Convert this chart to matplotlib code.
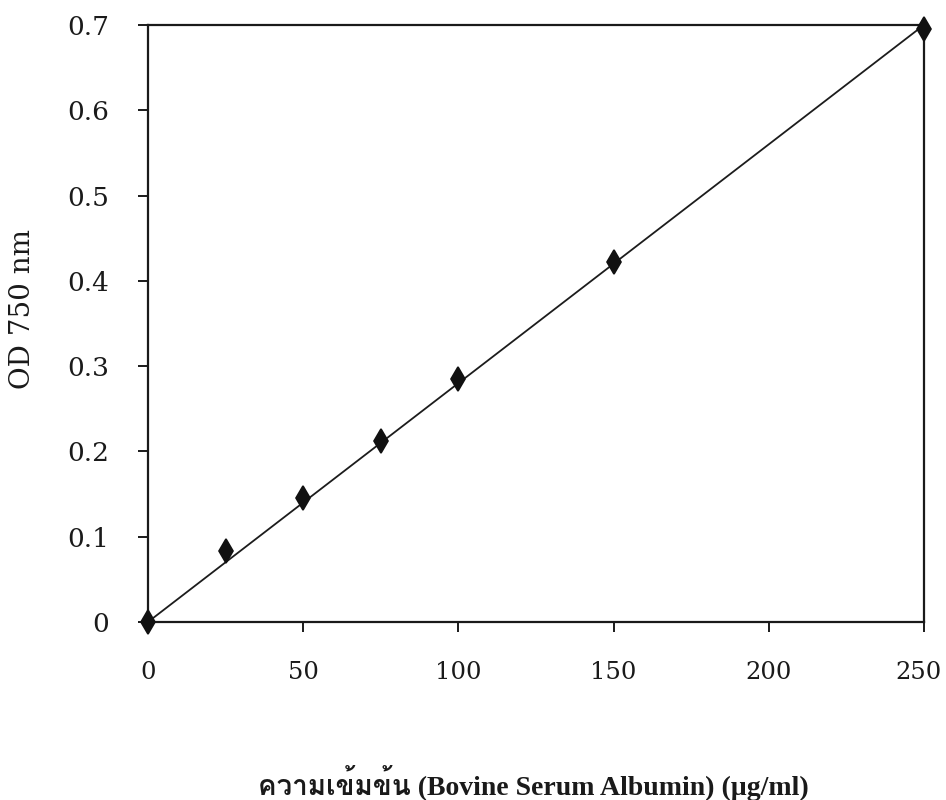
import matplotlib
matplotlib.use("Agg")
import matplotlib.pyplot as plt
import matplotlib.transforms as mtransforms
from matplotlib import font_manager
from matplotlib.ft2font import FT2Font

# BSA standard curve (Lowry)
conc = [0, 25, 50, 75, 100, 150, 250]
od750 = [0.0, 0.083, 0.145, 0.212, 0.285, 0.422, 0.695]

# fitted line drawn on the original
fit_x = [0, 250]
fit_y = [0.0, 0.70]

xticks = [0, 50, 100, 150, 200, 250]
yticks = [0, 0.1, 0.2, 0.3, 0.4, 0.5, 0.6, 0.7]
ytick_labels = ["0", "0.1", "0.2", "0.3", "0.4", "0.5", "0.6", "0.7"]

xlabel = "ความเข้มข้น (Bovine Serum Albumin) (\u00b5g/ml)"
ylabel = "OD 750 nm"


def find_thai_family():
    # look for any installed font that has Thai glyphs
    seen = set()
    for f in font_manager.fontManager.ttflist:
        if f.name in seen:
            continue
        seen.add(f.name)
        try:
            ft = FT2Font(f.fname)
            if ft.get_char_index(ord("ค")) != 0:
                return f.name
        except Exception:
            pass
    return None


thai = find_thai_family()
label_fams = ["Liberation Serif"] + ([thai] if thai else []) + ["DejaVu Sans"]

plt.rcParams["font.family"] = ["DejaVu Serif"]

fig = plt.figure(figsize=(9.46, 8), dpi=100)
ax = fig.add_axes([0.1564, 0.2225, 0.8203, 0.7463])

ax.plot(fit_x, fit_y, color="#1c1c1c", linewidth=1.3, zorder=2)
ax.plot(conc, od750, linestyle="none", marker="d", markersize=12,
        markeredgewidth=1.2, color="#111111", clip_on=False, zorder=3)

ax.set_xlim(0, 250)
ax.set_ylim(0, 0.7)
ax.set_xticks(xticks)
ax.set_yticks(yticks)
ax.set_yticklabels(ytick_labels)

for s in ax.spines.values():
    s.set_linewidth(1.6)
    s.set_color("#1a1a1a")

ax.tick_params(direction="out", length=7, width=1.4, color="#1a1a1a",
               labelcolor="#1a1a1a", top=False, right=False)
ax.tick_params(axis="x", pad=21, labelsize=17.5)
ax.tick_params(axis="y", pad=21, labelsize=19)

# keep the last x label inside the figure, like the original
last = ax.get_xticklabels()[-1]
last.set_transform(last.get_transform() +
                   mtransforms.ScaledTranslation(-5 / 100, 0, fig.dpi_scale_trans))

ax.set_ylabel(ylabel, fontsize=20, family="DejaVu Serif", color="#1a1a1a")
ax.yaxis.label.set_va("center")
ax.yaxis.set_label_coords(-0.162, 0.524)

ax.set_xlabel(xlabel, fontsize=20, family=label_fams, fontweight="bold",
              color="#1a1a1a")
ax.xaxis.label.set_va("center")
ax.xaxis.set_label_coords(0.497, -0.27)

fig.savefig("out.png", dpi=100, facecolor="white")
